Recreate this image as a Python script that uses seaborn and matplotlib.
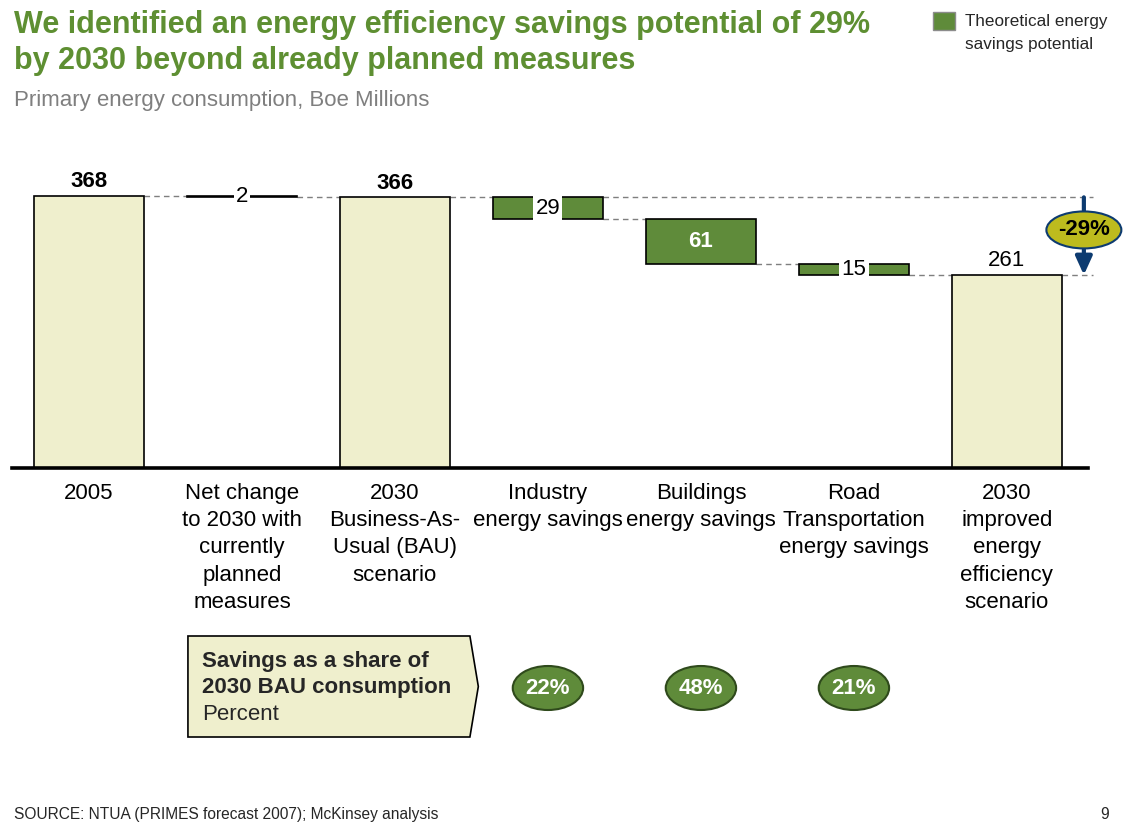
import numpy as np
import pandas as pd
import matplotlib
matplotlib.use("Agg")
import matplotlib.pyplot as plt
from matplotlib.patches import Ellipse, Polygon, Rectangle
import seaborn as sns

# ---- data ----
categories = [
    "2005",
    "Net change\nto 2030 with\ncurrently\nplanned\nmeasures",
    "2030\nBusiness-As-\nUsual (BAU)\nscenario",
    "Industry\nenergy savings",
    "Buildings\nenergy savings",
    "Road\nTransportation\nenergy savings",
    "2030\nimproved\nenergy\nefficiency\nscenario",
]
bar_kind = ["total", "change", "total", "saving", "saving", "saving", "total"]
values = [368, -2, 366, -29, -61, -15, 261]

share_categories = categories[3:6]
share_values = [22, 48, 21]

# ---- colours ----
BEIGE = "#EFEFCD"
GREEN = "#5F8B3A"
TITLE_GREEN = "#5E8F32"
NAVY = "#0D3B70"
OLIVE = "#BDBB1E"
GRAY = "#7F7F7F"

W, H = 1139, 822

sns.set_theme(style="white")
plt.rcParams["font.family"] = ["Liberation Sans", "DejaVu Sans"]

# running levels for the waterfall
level = 0
bottoms, heights, levels = [], [], []
for v, k in zip(values, bar_kind):
    if k == "total":
        bottoms.append(0)
        heights.append(v)
        level = v
    else:
        new = level + v
        bottoms.append(min(level, new))
        heights.append(abs(v))
        level = new
    levels.append(level)

df = pd.DataFrame(dict(category=categories, kind=bar_kind, value=values,
                       bottom=bottoms, height=heights, level=levels))

fig = plt.figure(figsize=(W / 100, H / 100), dpi=100)
fig.patch.set_facecolor("white")

ax_left, ax_right = 12 / W, 1088 / W
ax = fig.add_axes([ax_left, (H - 468) / H, ax_right - ax_left, 318 / H])

bar_w = 0.72
kind_colors = {"total": BEIGE, "change": "black", "saving": GREEN}
for kind, color in kind_colors.items():
    sub = df[df["kind"] == kind]
    sns.barplot(data=sub, x="category", y="height", order=categories,
                bottom=sub["bottom"].values, color=color, saturation=1,
                width=bar_w, edgecolor="black", linewidth=1.2,
                errorbar=None, ax=ax, zorder=3)

ax.set_xlim(-0.503, 6.53)
ax.set_ylim(0, 430)
ax.set_xlabel("")
ax.set_ylabel("")
ax.set_yticks([])
for s in ["top", "left", "right"]:
    ax.spines[s].set_visible(False)
ax.spines["bottom"].set_linewidth(2.6)
ax.spines["bottom"].set_color("black")
ax.spines["bottom"].set_zorder(5)
ax.tick_params(axis="x", length=0, pad=11, labelsize=16, colors="black")
plt.setp(ax.get_xticklabels(), linespacing=1.38)
ax.patch.set_alpha(0)

# value labels
half = bar_w / 2
for i, row in df.iterrows():
    top = row["bottom"] + row["height"]
    if row["kind"] == "total":
        bold = "bold" if i < 6 else "normal"
        ax.text(i, top + 5, f"{row['value']}", ha="center", va="bottom",
                fontsize=16, fontweight=bold, color="black", zorder=6)
    else:
        mid = row["bottom"] + row["height"] / 2
        if row["height"] > 40:
            ax.text(i, mid, f"{abs(row['value'])}", ha="center", va="center",
                    fontsize=16, fontweight="bold", color="white", zorder=6)
        else:
            ax.text(i, mid, f"{abs(row['value'])}", ha="center", va="center",
                    fontsize=16, color="black", zorder=6,
                    bbox=dict(boxstyle="square,pad=0.1", fc="white", ec="none"))

# dashed connectors
dash = (0, (4, 3))
for i in range(len(df) - 1):
    ax.hlines(df["level"][i], i + half, i + 1 - half, colors=GRAY,
              linestyles=dash, lw=1, zorder=1, clip_on=False)
right_end = 6.56
ax.hlines(df["level"][2], 3 + half, right_end, colors=GRAY, linestyles=dash,
          lw=1, zorder=1, clip_on=False)
ax.hlines(df["level"][6], 6 + half, right_end, colors=GRAY, linestyles=dash,
          lw=1, zorder=1, clip_on=False)

# total change arrow
arrow_x = 6.503
ax.annotate("", xy=(arrow_x, df["level"][6]), xytext=(arrow_x, df["level"][2]),
            arrowprops=dict(arrowstyle="-|>,head_length=0.55,head_width=0.25",
                            color=NAVY, lw=3, mutation_scale=20,
                            shrinkA=0, shrinkB=0),
            annotation_clip=False, zorder=6)
pct = round((df["level"][6] - df["level"][2]) / df["level"][2] * 100)
ell_y = df["level"][6] + 0.58 * (df["level"][2] - df["level"][6])
ax.add_patch(Ellipse((arrow_x, ell_y), 0.49, 50, fc=OLIVE, ec=NAVY, lw=1.5,
                     clip_on=False, zorder=7))
ax.text(arrow_x, ell_y, f"{pct}%", ha="center", va="center", fontsize=16,
        fontweight="bold", color="black", zorder=8)

# bottom strip: savings share
bax = fig.add_axes([ax_left, (H - 745) / H, ax_right - ax_left, 115 / H])
bax.set_xlim(ax.get_xlim())
bax.set_ylim(0, 115)
bax.axis("off")
bax.add_patch(Polygon([(0.647, 8), (2.49, 8), (2.545, 58.5), (2.49, 109), (0.647, 109)],
                      closed=True, fc=BEIGE, ec="black", lw=1.2))
bax.text(0.74, 84, "Savings as a share of", fontsize=16, fontweight="bold", va="center")
bax.text(0.74, 58, "2030 BAU consumption", fontsize=16, fontweight="bold", va="center")
bax.text(0.74, 31, "Percent", fontsize=16, va="center")
for c, v in zip(share_categories, share_values):
    x = categories.index(c)
    bax.add_patch(Ellipse((x, 57), 0.46, 44, fc=GREEN, ec="#2F4A1C", lw=1.5))
    bax.text(x, 57, f"{v}%", ha="center", va="center", fontsize=16,
             fontweight="bold", color="white")

# titles and notes
fig.text(14 / W, 1 - 33 / H, "We identified an energy efficiency savings potential of 29%",
         fontsize=22, fontweight="bold", color=TITLE_GREEN, va="baseline")
fig.text(14 / W, 1 - 69 / H, "by 2030 beyond already planned measures",
         fontsize=22, fontweight="bold", color=TITLE_GREEN, va="baseline")
fig.text(14 / W, 1 - 106 / H, "Primary energy consumption, Boe Millions",
         fontsize=16, color=GRAY, va="baseline")

fig.patches.append(Rectangle((933 / W, 1 - 30 / H), 22 / W, 18 / H,
                             transform=fig.transFigure, fc=GREEN, ec="#8C8C8C", lw=1))
fig.text(965 / W, 1 - 26 / H, "Theoretical energy", fontsize=12.3, va="baseline")
fig.text(965 / W, 1 - 49 / H, "savings potential", fontsize=12.3, va="baseline")

fig.text(14 / W, 1 - 819 / H, "SOURCE: NTUA (PRIMES forecast 2007); McKinsey analysis",
         fontsize=11.2, va="baseline")
fig.text(1100 / W, 1 - 819 / H, "9", fontsize=11.2, va="baseline")

fig.savefig("out.png", dpi=100, facecolor="white")
